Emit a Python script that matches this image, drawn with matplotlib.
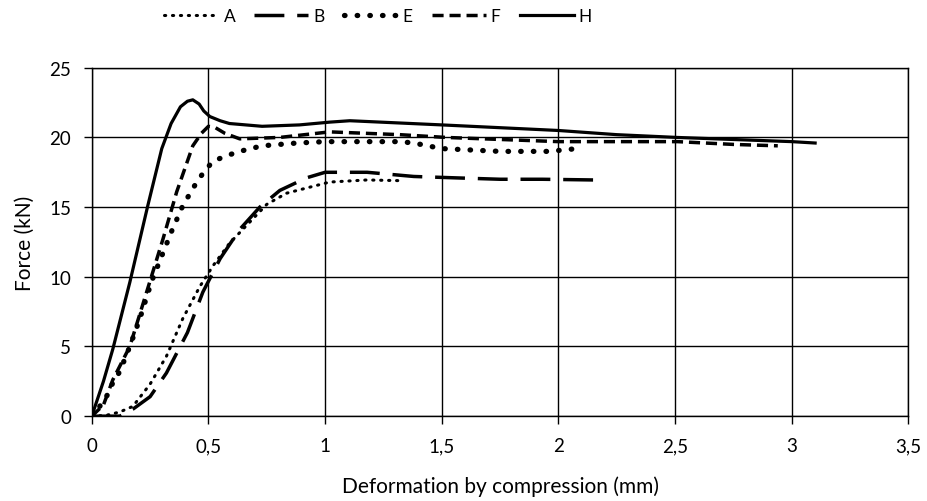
import matplotlib.pyplot as plt

plt.rcParams['font.family'] = ['Lato', 'DejaVu Sans']

# data (x in mm, y in kN)
a_x = [0, 0.06, 0.12, 0.176, 0.25, 0.32, 0.39, 0.463, 0.52, 0.59, 0.664, 0.75, 0.835, 0.95, 1.02, 1.18, 1.32]
a_y = [0, 0.05, 0.3, 0.7, 2.3, 4.3, 7.0, 9.3, 10.8, 12.4, 13.7, 15.2, 16.0, 16.5, 16.8, 16.95, 16.9]

b_x = [0, 0.12, 0.176, 0.25, 0.32, 0.41, 0.476, 0.55, 0.634, 0.72, 0.806, 0.92, 1.0, 1.18, 1.38, 1.56, 1.75, 1.93, 2.15]
b_y = [0, 0, 0.5, 1.4, 3.1, 6.0, 8.9, 11.3, 13.4, 15.0, 16.2, 17.1, 17.5, 17.5, 17.2, 17.1, 17.0, 17.0, 16.95]

e_x = [0, 0.034, 0.07, 0.09, 0.12, 0.163, 0.206, 0.257, 0.30, 0.343, 0.39, 0.45, 0.484, 0.52, 0.58, 0.634, 0.73, 0.88, 1.0, 1.32, 1.38, 1.44, 1.50, 1.75, 1.96, 2.02, 2.08]
e_y = [0, 0.7, 1.6, 2.4, 3.2, 5.0, 7.0, 9.7, 11.5, 13.3, 15.1, 16.8, 17.6, 18.3, 18.7, 19.0, 19.4, 19.6, 19.7, 19.7, 19.6, 19.4, 19.2, 19.0, 19.0, 19.1, 19.2]

f_x = [0, 0.05, 0.09, 0.163, 0.235, 0.305, 0.364, 0.433, 0.47, 0.5, 0.53, 0.57, 0.634, 0.805, 1.02, 1.32, 1.52, 2.0, 2.39, 2.51, 2.75, 2.94]
f_y = [0, 0.8, 2.6, 5.0, 8.9, 12.7, 16.1, 19.4, 20.3, 20.8, 20.7, 20.3, 19.9, 20.0, 20.4, 20.2, 20.0, 19.7, 19.7, 19.7, 19.5, 19.4]

h_x = [0, 0.05, 0.09, 0.163, 0.24, 0.30, 0.34, 0.38, 0.41, 0.433, 0.46, 0.48, 0.506, 0.55, 0.59, 0.73, 0.89, 1.02, 1.106, 1.5, 2.0, 2.25, 2.51, 3.0, 3.1]
h_y = [0, 2.5, 4.8, 9.6, 15.1, 19.2, 21.0, 22.2, 22.6, 22.7, 22.4, 21.9, 21.5, 21.2, 21.0, 20.8, 20.9, 21.1, 21.2, 20.9, 20.5, 20.2, 20.0, 19.7, 19.6]

fig, ax = plt.subplots(figsize=(9.27, 5.02), dpi=100)
fig.subplots_adjust(left=0.099, right=0.980, bottom=0.169, top=0.863)

ax.plot(a_x, a_y, color='black', lw=2.2, linestyle=(0, (0.4, 2.2)), dash_capstyle='round', label='A')
ax.plot(b_x, b_y, color='black', lw=2.5, linestyle=(0, (8.6, 3.7)), label='B')
ax.plot(e_x, e_y, color='black', lw=3.8, linestyle=(0, (0.1, 2.3)), dash_capstyle='round', label='E')
ax.plot(f_x, f_y, color='black', lw=2.5, linestyle=(0, (3.2, 1.7)), label='F')
ax.plot(h_x, h_y, color='black', lw=2.3, label='H')

ax.set_xlim(0, 3.5)
ax.set_ylim(0, 25)
ax.set_xticks([0, 0.5, 1, 1.5, 2, 2.5, 3, 3.5])
ax.set_xticklabels(['0', '0,5', '1', '1,5', '2', '2,5', '3', '3,5'])
ax.set_yticks([0, 5, 10, 15, 20, 25])
ax.grid(True, color='black', lw=1)
ax.tick_params(direction='out', length=6, width=1, labelsize=13.5, color='black')
ax.tick_params(axis='x', pad=9)
ax.tick_params(axis='y', pad=9)
for s in ax.spines.values():
    s.set_color('black')
    s.set_linewidth(1)

ax.set_xlabel('Deformation by compression (mm)', fontsize=15)
ax.set_ylabel('Force (kN)', fontsize=15)
ax.xaxis.set_label_coords(0.5, -0.17)
ax.yaxis.set_label_coords(-0.07, 0.5)

fig.legend(loc='center', bbox_to_anchor=(0.408, 0.966), ncol=5, frameon=False,
           fontsize=12.5, handlelength=3.1, columnspacing=1.1, handletextpad=0.3)

fig.savefig('out.png', dpi=100)
